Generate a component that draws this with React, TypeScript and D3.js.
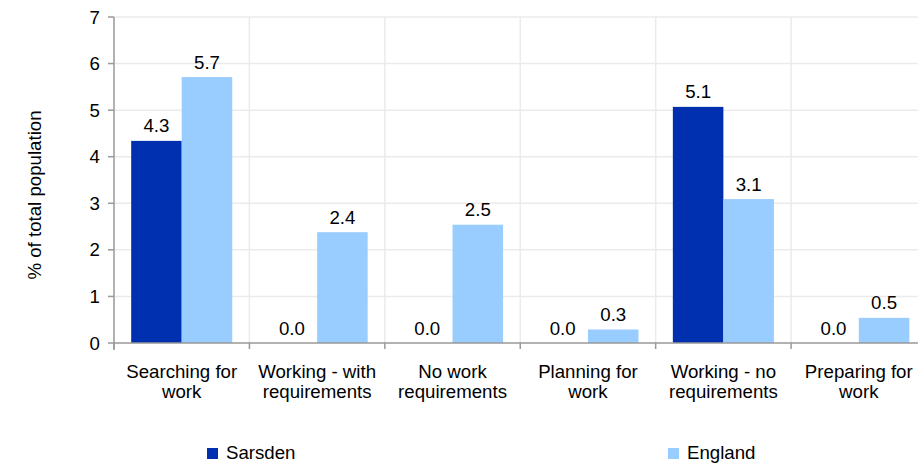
import * as React from "react";
import * as d3 from "d3";

// chart data
const categories = [
  ["Searching for", "work"],
  ["Working - with", "requirements"],
  ["No work", "requirements"],
  ["Planning for", "work"],
  ["Working - no", "requirements"],
  ["Preparing for", "work"],
];
const seriesNames = ["Sarsden", "England"];
const sarsden = [4.34, 0, 0, 0, 5.07, 0];
const england = [5.71, 2.38, 2.54, 0.29, 3.09, 0.54];
const yTicks = [0, 1, 2, 3, 4, 5, 6, 7];

const colors = ["#0030B0", "#99CCFF"];
const font = "'Liberation Sans', Arial, sans-serif";
const fs = 18.67;

const W = 918;
const H = 465;
const left = 114;
const right = 926.5;
const top = 17;
const bottom = 343;

export default function App() {
  const x = d3
    .scaleBand<number>()
    .domain(categories.map((_, i) => i))
    .range([left, right]);
  const inner = d3
    .scaleBand<number>()
    .domain([0, 1])
    .range([0, x.bandwidth()])
    .paddingOuter(0.34);
  const y = d3.scaleLinear().domain([0, 7]).range([bottom, top]);

  const series = [sarsden, england];
  const boundaries = d3.range(categories.length + 1).map((i) => left + i * x.step());

  return (
    <svg
      width={W}
      height={H}
      style={{ position: "absolute", left: 0, top: 0, background: "#fff" }}
      fontFamily={font}
    >
      {/* grid */}
      {yTicks.slice(1).map((t) => (
        <line key={"h" + t} x1={left} x2={right} y1={y(t)} y2={y(t)} stroke="#ebebeb" strokeWidth={1.5} />
      ))}
      {boundaries.slice(1).map((b, i) => (
        <line key={"v" + i} x1={b} x2={b} y1={top} y2={bottom} stroke="#ebebeb" strokeWidth={1.5} />
      ))}

      {/* bars */}
      {series.map((vals, s) =>
        vals.map((v, i) => {
          const bx = (x(i) ?? 0) + (inner(s) ?? 0);
          return (
            <g key={`${s}-${i}`}>
              {v > 0 && (
                <rect x={bx} y={y(v)} width={inner.bandwidth()} height={bottom - y(v)} fill={colors[s]} />
              )}
              <text
                x={bx + inner.bandwidth() / 2}
                y={y(v) - 8.5}
                textAnchor="middle"
                fontSize={fs}
                fill="#000"
              >
                {v.toFixed(1)}
              </text>
            </g>
          );
        })
      )}

      {/* y axis */}
      <line x1={left} x2={left} y1={top} y2={bottom + 7} stroke="#999" strokeWidth={1.5} />
      {yTicks.map((t) => (
        <g key={"yt" + t}>
          <line x1={left - 6} x2={left} y1={y(t)} y2={y(t)} stroke="#999" strokeWidth={1.5} />
          <text x={left - 14} y={y(t) + 6.5} textAnchor="end" fontSize={fs} fill="#000">
            {t}
          </text>
        </g>
      ))}

      {/* x axis */}
      <line x1={left} x2={right} y1={bottom} y2={bottom} stroke="#999" strokeWidth={1.5} />
      {boundaries.map((b, i) => (
        <line key={"xt" + i} x1={b} x2={b} y1={bottom} y2={bottom + 6} stroke="#999" strokeWidth={1.5} />
      ))}
      {categories.map((lines, i) => (
        <text
          key={"xl" + i}
          x={(x(i) ?? 0) + x.bandwidth() / 2}
          y={378}
          textAnchor="middle"
          fontSize={fs}
          fill="#000"
        >
          {lines.map((l, j) => (
            <tspan key={j} x={(x(i) ?? 0) + x.bandwidth() / 2} dy={j === 0 ? 0 : 20}>
              {l}
            </tspan>
          ))}
        </text>
      ))}

      {/* y title */}
      <text
        transform={`translate(41, 195) rotate(-90)`}
        textAnchor="middle"
        fontSize={fs}
        fill="#000"
      >
        % of total population
      </text>

      {/* legend */}
      {seriesNames.map((n, s) => {
        const lx = s === 0 ? 207 : 668;
        return (
          <g key={n}>
            <rect x={lx} y={448} width={11} height={11} fill={colors[s]} />
            <text x={lx + 19} y={459} fontSize={fs} fill="#000">
              {n}
            </text>
          </g>
        );
      })}
    </svg>
  );
}
